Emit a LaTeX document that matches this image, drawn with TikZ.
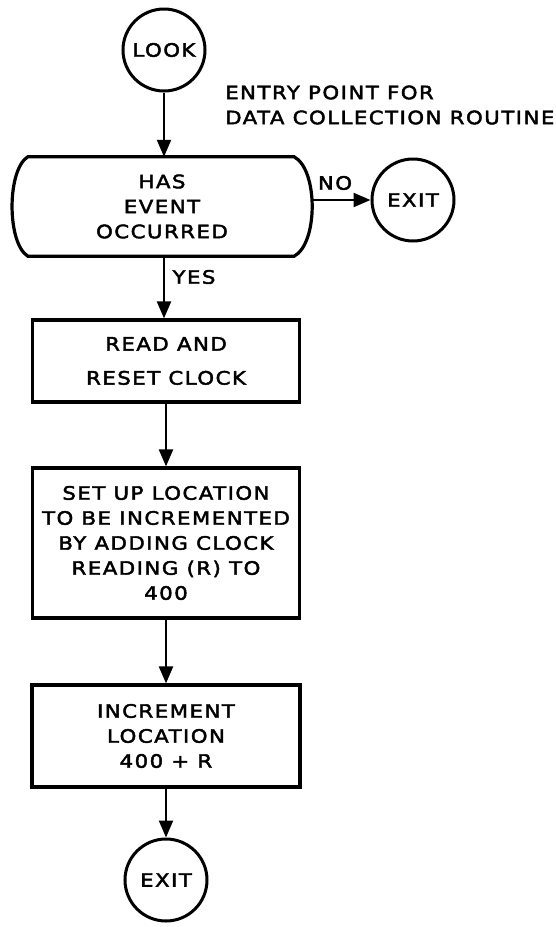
\documentclass[tikz,border=0pt]{standalone}
\usepackage{fontspec}
\setmainfont{DejaVu Sans}[FakeStretch=1.15,LetterSpace=8,FakeBold=2.4]
\usetikzlibrary{arrows.meta,calc}
\begin{document}
\begin{tikzpicture}[x=1pt,y=-1pt,
  every node/.style={font=\fontsize{18.5}{25}\selectfont},
  term/.style={circle,draw,line width=3pt,minimum size=82pt,inner sep=0pt},
  proc/.style={rectangle,draw,line width=3.2pt,align=center,inner sep=0pt},
  flow/.style={line width=2.2pt,-{Triangle[length=17pt,width=14pt]}},
  lbl/.style={inner sep=0pt}]
\useasboundingbox (0,0) rectangle (556,927);
% nodes
\node[term] (look) at (164,50) {LOOK};
\node[lbl,align=left,anchor=west] (entry) at (225,105) {ENTRY POINT FOR\\DATA COLLECTION ROUTINE};
\node[lbl,minimum width=300pt,minimum height=99pt,align=center] (dec) at (162,206.5) {HAS\\EVENT\\OCCURRED};
\draw[line width=3.2pt]
  ($(dec.north west)+(16,0)$) -- ($(dec.north east)+(-18,0)$)
  .. controls ($(dec.north east)+(6,13)$) and ($(dec.south east)+(6,-13)$) .. ($(dec.south east)+(-18,0)$)
  -- ($(dec.south west)+(16,0)$)
  .. controls ($(dec.south west)+(-5,-13)$) and ($(dec.north west)+(-5,13)$) .. cycle;
\node[term] (ex1) at (413,200) {EXIT};
\node[lbl] (no) at (335,183) {NO};
\node[lbl] (yes) at (194,277) {YES};
\node[proc,minimum width=267pt,minimum height=82pt] (b1) at (166,361) {READ AND\\[9pt]RESET CLOCK};
\node[proc,minimum width=267pt,minimum height=150pt] (b2) at (166,543) {SET UP LOCATION\\TO BE INCREMENTED\\BY ADDING CLOCK\\READING (R) TO\\400};
\node[proc,minimum width=268pt,minimum height=102pt] (b3) at (166,736) {INCREMENT\\LOCATION\\400 + R};
\node[term] (ex2) at (166,880) {EXIT};
% connectors
\draw[flow] (look.south) -- (look.south |- dec.north);
\draw[flow] (ex1.west -| dec.east) -- (ex1.west);
\draw[flow] (look.south |- dec.south) -- (look.south |- b1.north);
\draw[flow] (b1.south) -- (b2.north);
\draw[flow] (b2.south) -- (b3.north);
\draw[flow] (b3.south) -- (ex2.north);
\end{tikzpicture}
\end{document}
